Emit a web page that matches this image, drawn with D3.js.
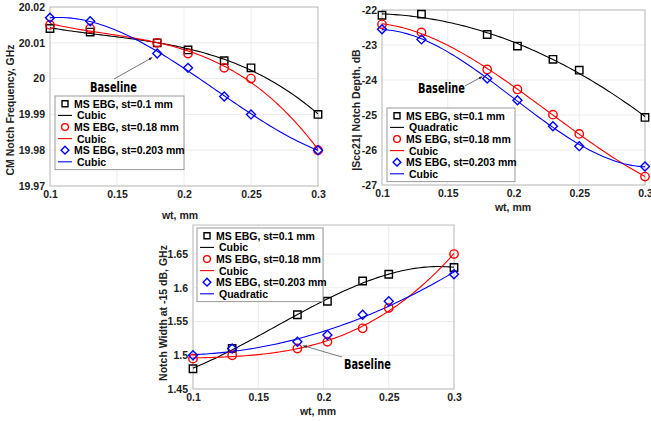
<!DOCTYPE html>
<html>
<head>
<meta charset="utf-8">
<script src="https://cdn.jsdelivr.net/npm/d3@7"></script>
<style>
  body { margin: 0; background: #fff; }
  text { font-family: "Liberation Sans", Arial, sans-serif; }
  .tick text { font-size: 10.5px; font-weight: bold; fill: #222; }
  .lab { font-size: 10.5px; font-weight: bold; fill: #222; }
  .leg { font-size: 10.5px; font-weight: bold; fill: #000; }
  .base { font-family: "DejaVu Sans Condensed", "Liberation Sans", sans-serif; font-size: 14px; font-weight: bold; fill: #000; }
</style>
</head>
<body>
<div id="chart"></div>
<script>
// sample widths wt (mm)
var wt = [0.1, 0.13, 0.18, 0.203, 0.23, 0.25, 0.3];

// CM notch frequency, GHz
var freqSt01 = [20.014, 20.013, 20.010, 20.008, 20.005, 20.003, 19.990];
var freqSt018 = [20.015, 20.014, 20.010, 20.007, 20.003, 20.000, 19.980];
var freqSt0203 = [20.017, 20.016, 20.007, 20.003, 19.995, 19.990, 19.980];

// |Scc21| notch depth, dB
var depthSt01 = [-22.15, -22.12, -22.70, -23.03, -23.41, -23.72, -25.07];
var depthSt018 = [-22.41, -22.64, -23.70, -24.27, -24.99, -25.54, -26.76];
var depthSt0203 = [-22.55, -22.84, -23.96, -24.58, -25.32, -25.89, -26.47];

// notch width at -15 dB, GHz
var widthSt01 = [1.48, 1.51, 1.56, 1.58, 1.61, 1.62, 1.63];
var widthSt018 = [1.495, 1.50, 1.51, 1.52, 1.54, 1.57, 1.65];
var widthSt0203 = [1.50, 1.51, 1.52, 1.53, 1.56, 1.58, 1.62];

var seriesNames = ["MS EBG, st=0.1 mm", "MS EBG, st=0.18 mm", "MS EBG, st=0.203 mm"];
var xTicks = [0.1, 0.15, 0.2, 0.25, 0.3];
var freqTicks = [19.97, 19.98, 19.99, 20, 20.01, 20.02];
var depthTicks = [-27, -26, -25, -24, -23, -22];
var widthTicks = [1.45, 1.5, 1.55, 1.6, 1.65];

var colors = ["#000000", "#ff0000", "#0000ff"];

// matlab style diamond (square turned 45 degrees)
var symbolDiamond = {
  draw: function(ctx, size) {
    var r = Math.sqrt(size / 2);
    ctx.moveTo(0, -r); ctx.lineTo(r, 0); ctx.lineTo(0, r); ctx.lineTo(-r, 0);
    ctx.closePath();
  }
};
var shapes = [d3.symbolSquare, d3.symbolCircle, symbolDiamond];

var w = 651, h = 421;

var svg = d3.select("#chart").append("svg")
  .attr("width", w).attr("height", h);

svg.append("defs").append("marker")
  .attr("id", "arrow")
  .attr("viewBox", "0 0 10 10")
  .attr("refX", 9).attr("refY", 5)
  .attr("markerWidth", 5).attr("markerHeight", 5)
  .attr("orient", "auto")
  .append("path").attr("d", "M0,1L10,5L0,9z").attr("fill", "#333");

// least squares polynomial fit (like the curve fitting in the original)
function polyfit(xs, ys, deg) {
  var n = deg + 1;
  var A = [], b = [];
  for (var i = 0; i < n; i++) {
    A.push(new Array(n).fill(0));
    b.push(0);
  }
  xs.forEach(function(x, k) {
    var t = (x - 0.2) * 10;
    for (var i = 0; i < n; i++) {
      b[i] += ys[k] * Math.pow(t, i);
      for (var j = 0; j < n; j++) A[i][j] += Math.pow(t, i + j);
    }
  });
  for (var c = 0; c < n; c++) {
    var p = c;
    for (var r = c + 1; r < n; r++) if (Math.abs(A[r][c]) > Math.abs(A[p][c])) p = r;
    var tmp = A[c]; A[c] = A[p]; A[p] = tmp;
    var tb = b[c]; b[c] = b[p]; b[p] = tb;
    for (var r = c + 1; r < n; r++) {
      var f = A[r][c] / A[c][c];
      for (var j = c; j < n; j++) A[r][j] -= f * A[c][j];
      b[r] -= f * b[c];
    }
  }
  var coef = new Array(n).fill(0);
  for (var i = n - 1; i >= 0; i--) {
    var s = b[i];
    for (var j = i + 1; j < n; j++) s -= A[i][j] * coef[j];
    coef[i] = s / A[i][i];
  }
  return function(x) {
    var t = (x - 0.2) * 10, v = 0;
    for (var i = 0; i < n; i++) v += coef[i] * Math.pow(t, i);
    return v;
  };
}

function fmt(d) { return String(+d.toFixed(3)); }

function drawPanel(cfg) {
  var xScale = d3.scaleLinear().domain([0.1, 0.3]).range([cfg.x0, cfg.x1]);
  var yScale = d3.scaleLinear().domain(cfg.yDomain).range([cfg.y1, cfg.y0]);
  var g = svg.append("g");

  // grid
  g.selectAll("line.gx").data(xTicks).join("line")
    .attr("x1", d => xScale(d)).attr("x2", d => xScale(d))
    .attr("y1", cfg.y0).attr("y2", cfg.y1)
    .attr("stroke", "#ebebeb").attr("stroke-width", 1);
  g.selectAll("line.gy").data(cfg.yTicks).join("line")
    .attr("x1", cfg.x0).attr("x2", cfg.x1)
    .attr("y1", d => yScale(d)).attr("y2", d => yScale(d))
    .attr("stroke", "#ebebeb").attr("stroke-width", 1);

  // box
  g.append("rect")
    .attr("x", cfg.x0).attr("y", cfg.y0)
    .attr("width", cfg.x1 - cfg.x0).attr("height", cfg.y1 - cfg.y0)
    .attr("fill", "none").attr("stroke", "#bdbdbd");

  var xAxis = d3.axisBottom(xScale).tickValues(xTicks).tickFormat(fmt).tickSize(0).tickPadding(5);
  var yAxis = d3.axisLeft(yScale).tickValues(cfg.yTicks).tickFormat(fmt).tickSize(0).tickPadding(5);
  g.append("g").attr("transform", "translate(0," + cfg.y1 + ")").call(xAxis)
    .call(a => a.select(".domain").remove());
  g.append("g").attr("transform", "translate(" + cfg.x0 + ",0)").call(yAxis)
    .call(a => a.select(".domain").remove());

  // axis labels
  g.append("text").attr("class", "lab")
    .attr("x", cfg.xLabX).attr("y", cfg.xLabY)
    .attr("text-anchor", "middle").text("wt, mm");
  g.append("text").attr("class", "lab")
    .attr("transform", "translate(" + cfg.yLabX + "," + cfg.yLabY + ") rotate(-90)")
    .attr("text-anchor", "middle").text(cfg.yLabel);

  // fitted curves
  var samples = d3.range(0, 101).map(i => 0.1 + i * 0.002);
  cfg.series.forEach(function(ys, i) {
    var fit = polyfit(wt, ys, cfg.degrees[i]);
    var line = d3.line().x(d => xScale(d)).y(d => yScale(fit(d)));
    g.append("path").datum(samples)
      .attr("d", line).attr("fill", "none")
      .attr("stroke", colors[i]).attr("stroke-width", 1.1);
  });

  // markers
  cfg.series.forEach(function(ys, i) {
    var sym = d3.symbol().type(shapes[i]).size(i == 2 ? 40 : 55);
    g.selectAll(null).data(ys).join("path")
      .attr("transform", (d, k) => "translate(" + xScale(wt[k]) + "," + yScale(d) + ")")
      .attr("d", sym).attr("fill", "none")
      .attr("stroke", colors[i]).attr("stroke-width", 1.4);
  });

  // legend
  var L = cfg.legend;
  var rowH = 11.6;
  var lg = g.append("g").attr("transform", "translate(" + L.x + "," + L.y + ")");
  lg.append("rect").attr("width", L.w).attr("height", rowH * 6 + 4)
    .attr("fill", "#fff").attr("stroke", "#9a9a9a").attr("stroke-width", 1);
  seriesNames.forEach(function(name, i) {
    var cy1 = 2 + rowH * (2 * i) + rowH / 2;
    var cy2 = cy1 + rowH;
    lg.append("path")
      .attr("transform", "translate(10," + cy1 + ")")
      .attr("d", d3.symbol().type(shapes[i]).size(i == 2 ? 30 : 36))
      .attr("fill", "none").attr("stroke", colors[i]).attr("stroke-width", 1.4);
    lg.append("text").attr("class", "leg")
      .attr("x", 19).attr("y", cy1 + 4).text(name);
    lg.append("line")
      .attr("x1", 3).attr("x2", 17).attr("y1", cy2).attr("y2", cy2)
      .attr("stroke", colors[i]).attr("stroke-width", 1.1);
    lg.append("text").attr("class", "leg")
      .attr("x", 22).attr("y", cy2 + 4).text(cfg.fitNames[i]);
  });

  // baseline annotation
  var B = cfg.base;
  g.append("text").attr("class", "base")
    .attr("x", B.tx).attr("y", B.ty)
    .attr("textLength", 47).attr("lengthAdjust", "spacingAndGlyphs")
    .text("Baseline");
  g.append("line")
    .attr("x1", B.ax).attr("y1", B.ay)
    .attr("x2", xScale(0.18) + B.dx).attr("y2", yScale(cfg.series[B.s][2]) + B.dy)
    .attr("stroke", "#555").attr("stroke-width", 0.8)
    .attr("marker-end", "url(#arrow)");
}

drawPanel({
  x0: 50, x1: 318, y0: 7, y1: 186,
  yDomain: [19.97, 20.02], yTicks: freqTicks,
  yLabel: "CM Notch Frequency, GHz", yLabX: 14, yLabY: 110,
  xLabX: 180, xLabY: 219,
  series: [freqSt01, freqSt018, freqSt0203],
  degrees: [3, 3, 3], fitNames: ["Cubic", "Cubic", "Cubic"],
  legend: { x: 55, y: 96, w: 129 },
  base: { tx: 90, ty: 92, ax: 114, ay: 79, dx: -5, dy: 4, s: 2 }
});

drawPanel({
  x0: 382, x1: 645, y0: 10, y1: 185,
  yDomain: [-27, -22], yTicks: depthTicks,
  yLabel: "|Scc21| Notch Depth, dB", yLabX: 360, yLabY: 110,
  xLabX: 513, xLabY: 211,
  series: [depthSt01, depthSt018, depthSt0203],
  degrees: [2, 3, 3], fitNames: ["Quadratic", "Cubic", "Cubic"],
  legend: { x: 387, y: 108, w: 128 },
  base: { tx: 418, ty: 93, ax: 465, ay: 86, dx: -5, dy: -2, s: 2 }
});

drawPanel({
  x0: 193, x1: 454, y0: 225, y1: 389,
  yDomain: [1.45, 1.693], yTicks: widthTicks,
  yLabel: "Notch Width at -15 dB, GHz", yLabX: 167, yLabY: 313,
  xLabX: 318, xLabY: 415,
  series: [widthSt01, widthSt018, widthSt0203],
  degrees: [3, 3, 2], fitNames: ["Cubic", "Cubic", "Quadratic"],
  legend: { x: 197, y: 228, w: 126 },
  base: { tx: 344, ty: 369, ax: 342, ay: 357, dx: 6, dy: 4, s: 2 }
});
</script>
</body>
</html>
